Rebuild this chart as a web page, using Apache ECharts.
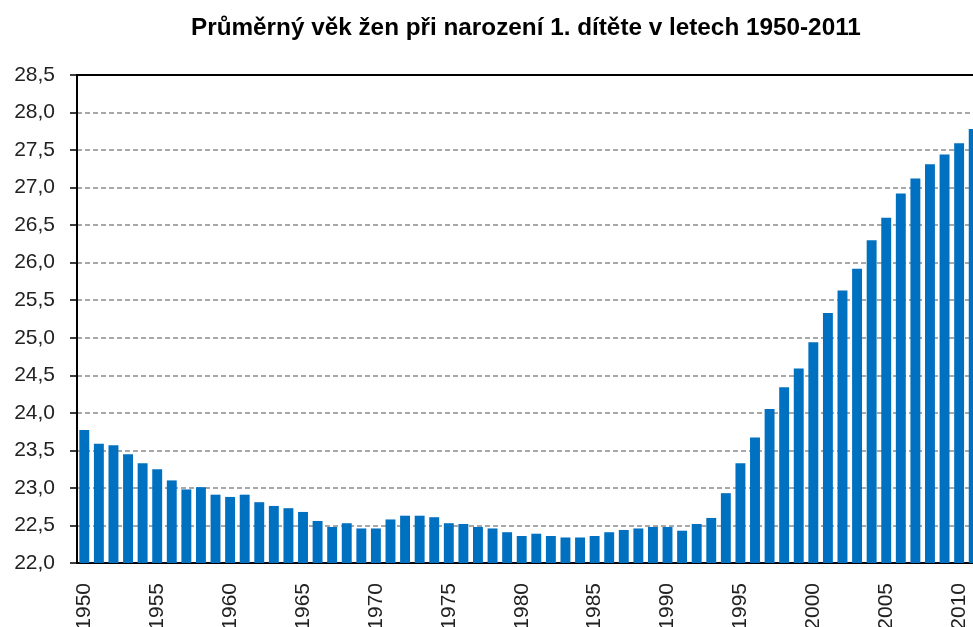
<!DOCTYPE html>
<html>
<head>
<meta charset="utf-8">
<script src="https://cdn.jsdelivr.net/npm/echarts@6/dist/echarts.min.js"></script>
<style>
  html, body { margin: 0; padding: 0; background: #fff; }
  #chart { width: 973px; height: 627px; }
</style>
</head>
<body>
<div id="chart"></div>
<script>
// roky 1950-2011
const years = [];
for (let y = 1950; y <= 2011; y++) years.push(String(y));

// prumerny vek zen pri narozeni 1. ditete
const meanAge = [
  23.77, 23.59, 23.57, 23.45, 23.33, 23.25, 23.10, 22.98, 23.01, 22.91,
  22.88, 22.91, 22.81, 22.76, 22.73, 22.68, 22.56, 22.48, 22.53, 22.46,
  22.46, 22.58, 22.63, 22.63, 22.61, 22.53, 22.52, 22.48, 22.46, 22.41,
  22.36, 22.39, 22.36, 22.34, 22.34, 22.36, 22.41, 22.44, 22.46, 22.48,
  22.48, 22.43, 22.52, 22.60, 22.93, 23.33, 23.67, 24.05, 24.34, 24.59,
  24.94, 25.33, 25.63, 25.92, 26.30, 26.60, 26.92, 27.12, 27.31, 27.44,
  27.59, 27.78
];

const yMin = 22.0;
const yMax = 28.5;
const yStep = 0.5;

const chart = echarts.init(document.getElementById('chart'));

const option = {
  backgroundColor: '#fff',
  animation: false,
  title: {
    text: 'Průměrný věk žen při narození 1. dítěte v letech 1950-2011',
    left: 186,
    top: 11,
    textStyle: {
      fontFamily: 'Liberation Sans',
      fontSize: 24.3,
      fontWeight: 'bold',
      color: '#000'
    }
  },
  grid: {
    left: 77,
    right: -8,
    top: 75,
    bottom: 64,
    containLabel: false,
    outerBoundsMode: 'none'
  },
  xAxis: [
    {
      type: 'category',
      data: years,
      boundaryGap: true,
      axisLine: { lineStyle: { color: '#000', width: 2 } },
      axisTick: {
        interval: 0,
        length: 6,
        lineStyle: { color: '#000', width: 1.5 }
      },
      axisLabel: {
        interval: 4,
        rotate: 90,
        margin: 20,
        fontFamily: 'Liberation Sans',
        fontSize: 21,
        color: '#222'
      }
    },
    {
      type: 'category',
      data: years,
      position: 'top',
      axisLine: { lineStyle: { color: '#000', width: 2 } },
      axisTick: { show: false },
      axisLabel: { show: false }
    }
  ],
  yAxis: {
    type: 'value',
    min: yMin,
    max: yMax,
    interval: yStep,
    axisLine: { show: true, lineStyle: { color: '#000', width: 2 } },
    axisTick: { show: true, length: 7, lineStyle: { color: '#000', width: 1.5 } },
    axisLabel: {
      margin: 22,
      fontFamily: 'Liberation Sans',
      fontSize: 21,
      color: '#222',
      formatter: v => v.toFixed(1).replace('.', ',')
    },
    splitLine: {
      show: true,
      lineStyle: { color: '#8c8c8c', type: [5, 3], width: 1.5 }
    }
  },
  series: [
    {
      type: 'bar',
      data: meanAge,
      barCategoryGap: '32%',
      itemStyle: { color: '#0070c0' }
    }
  ]
};

chart.setOption(option);
</script>
</body>
</html>
